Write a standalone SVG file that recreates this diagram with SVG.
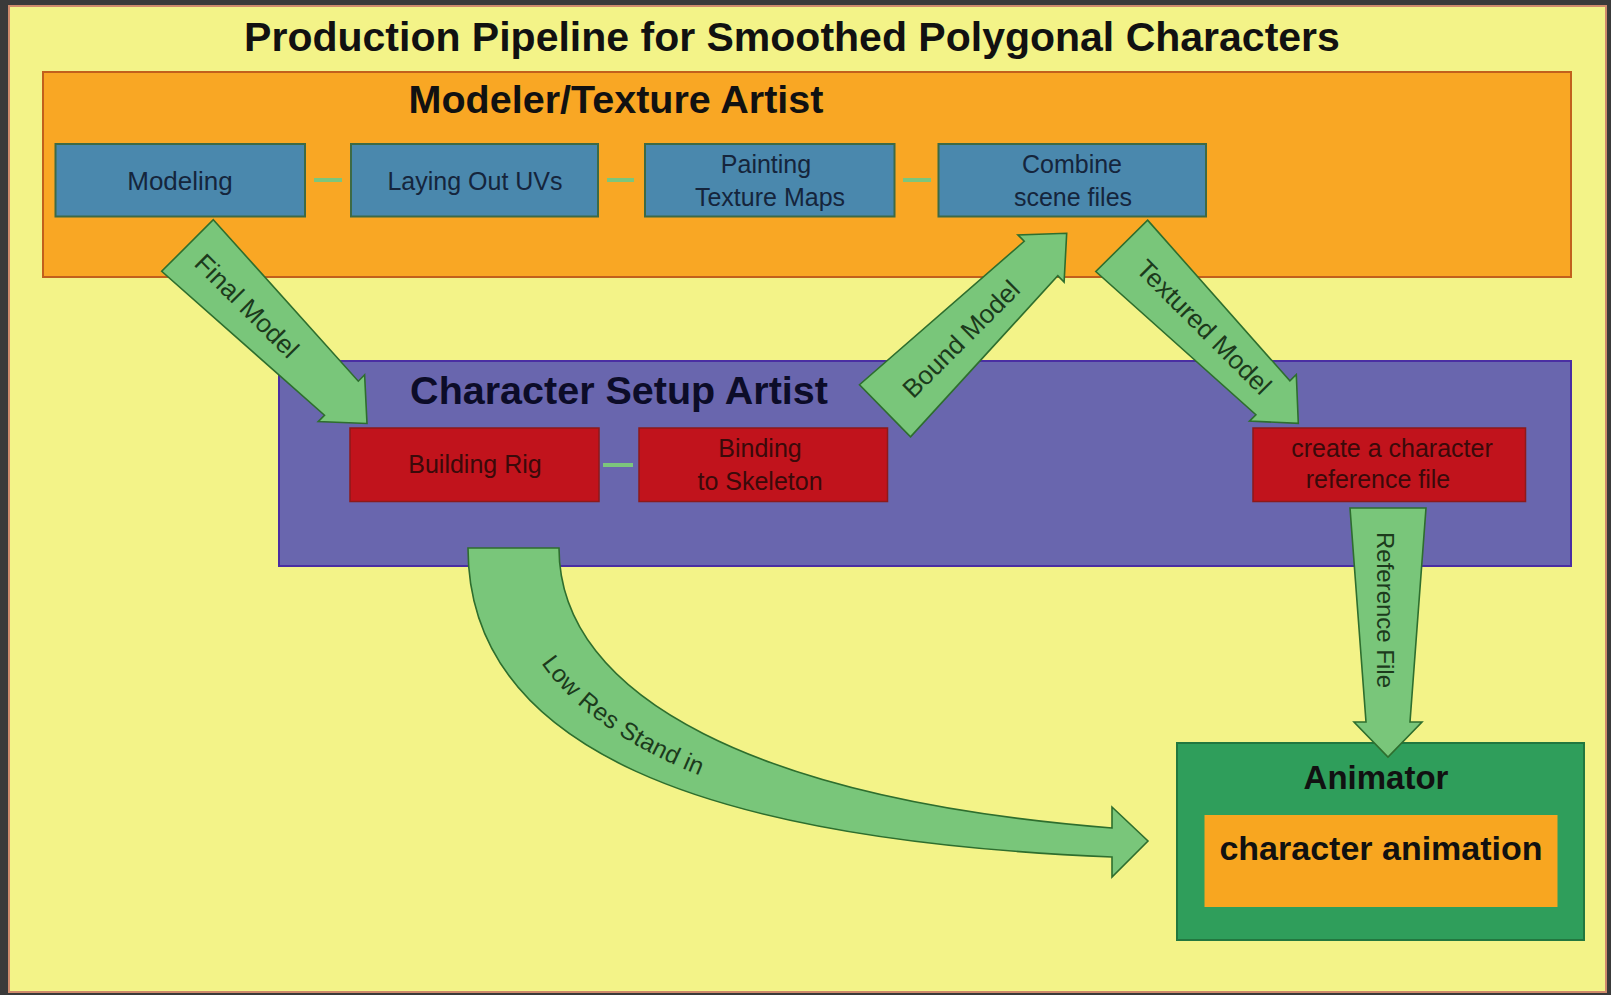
<svg xmlns="http://www.w3.org/2000/svg" width="1611" height="995" viewBox="0 0 1611 995">
<defs>
<style>
.bold{font-family:"Liberation Sans",Arial,sans-serif;font-weight:bold;fill:#111;text-anchor:middle}
.lbl{font-family:"Liberation Sans",Arial,sans-serif;font-size:25px;text-anchor:middle}
.blue{fill:#4a88ad;stroke:#3d6a45;stroke-width:2}
.red{fill:#c1131c;stroke:#8c1a1a;stroke-width:1.5}
.btxt{fill:#15253c}
.rtxt{fill:#3a0a0a}
.arrow{fill:#79c67a;stroke:#2e6e2e;stroke-width:1.6;stroke-linejoin:miter}
.atxt{font-family:"Liberation Sans",Arial,sans-serif;font-size:26px;fill:#1c3a1c;text-anchor:middle}
.dash{stroke:#7cc67c;stroke-width:4}
</style>
</defs>
<rect x="0" y="0" width="1611" height="995" fill="#3a3a3a"/>
<rect x="9" y="6" width="1597" height="986" fill="#f3f388" stroke="#cf8a6c" stroke-width="2"/>
<text class="bold" x="792" y="51" font-size="41">Production Pipeline for Smoothed Polygonal Characters</text>

<g id="modeler-texture-artist">
<rect x="43" y="72" width="1528" height="205" fill="#f9a724" stroke="#c2601c" stroke-width="2"/>
<text class="bold" x="616" y="113" font-size="39.5">Modeler/Texture Artist</text>
</g>

<g id="character-setup-artist">
<rect x="279" y="361" width="1292" height="205" fill="#6966ae" stroke="#4a2ea2" stroke-width="2"/>
<text class="bold" x="619" y="404" font-size="39.5" style="fill:#0c0c28">Character Setup Artist</text>
</g>

<g id="animator">
<rect x="1177" y="743" width="407" height="197" fill="#2f9e5b" stroke="#22773f" stroke-width="2"/>
<text class="bold" x="1376" y="789" font-size="33">Animator</text>
</g>

<g id="modeling">
<rect class="blue" x="55.5" y="144" width="249.5" height="72.5"/>
<text class="lbl btxt" x="180" y="190" style="font-size:26px">Modeling</text>
</g>
<g id="laying-out-uvs">
<rect class="blue" x="351" y="144" width="247" height="72.5"/>
<text class="lbl btxt" x="475" y="190">Laying Out UVs</text>
</g>
<g id="painting-texture-maps">
<rect class="blue" x="645" y="144" width="249.5" height="72.5"/>
<text class="lbl btxt" x="766" y="173">Painting</text>
<text class="lbl btxt" x="770" y="206">Texture Maps</text>
</g>
<g id="combine-scene-files">
<rect class="blue" x="938.5" y="144" width="267.5" height="72.5"/>
<text class="lbl btxt" x="1072" y="173">Combine</text>
<text class="lbl btxt" x="1073" y="206">scene files</text>
</g>

<g id="building-rig">
<rect class="red" x="350" y="428" width="249" height="73.5"/>
<text class="lbl rtxt" x="475" y="473">Building Rig</text>
</g>
<g id="binding-to-skeleton">
<rect class="red" x="639" y="428" width="248.5" height="73.5"/>
<text class="lbl rtxt" x="760" y="457">Binding</text>
<text class="lbl rtxt" x="760" y="490">to Skeleton</text>
</g>
<g id="character-reference-file">
<rect class="red" x="1253" y="428" width="272.5" height="73.5"/>
<text class="lbl rtxt" x="1392" y="457">create a character</text>
<text class="lbl rtxt" x="1378" y="488">reference file</text>
</g>

<g id="character-animation">
<rect x="1204.5" y="815" width="353" height="92" fill="#f8a620"/>
<text class="bold" x="1381" y="860" font-size="34">character animation</text>
</g>

<g id="connectors">
<line class="dash" x1="314" y1="180" x2="342" y2="180"/>
<line class="dash" x1="607" y1="180" x2="634" y2="180"/>
<line class="dash" x1="903" y1="180" x2="931" y2="180"/>
<line class="dash" x1="603" y1="465" x2="633" y2="465"/>

<g id="arrow-final-model">
<polygon class="arrow" points="213.3,219.7 358.3,381.2 364.6,374.8 367,423.5 318.2,421.6 324.5,415.2 161.7,271.3"/>
<text class="atxt" transform="translate(247,306) rotate(45)" y="9">Final Model</text>
</g>
<g id="arrow-bound-model">
<polygon class="arrow" points="910.5,436.9 1057.8,275.7 1064.1,282.1 1066.7,233.3 1017.9,234.9 1024.2,241.3 859.5,384.7"/>
<text class="atxt" transform="translate(961,339) rotate(-45)" y="9">Bound Model</text>
</g>
<g id="arrow-textured-model">
<polygon class="arrow" points="1147.6,220.1 1289.9,380.9 1296.3,374.5 1298.3,423.3 1249.5,421.1 1255.9,414.7 1095.8,271.5"/>
<text class="atxt" transform="translate(1204,327) rotate(45)" y="9">Textured Model</text>
</g>
<g id="arrow-reference-file">
<polygon class="arrow" points="1350,508 1426,508 1410,722 1422,722 1388,757 1354,722 1366,722"/>
<text class="atxt" transform="translate(1385,610) rotate(90)" y="8" style="font-size:24px">Reference File</text>
</g>
<g id="arrow-low-res">
<path id="lowres-shape" class="arrow" d="M468,548 L559,548 C559,698 760,800 1112,828 L1112,807 L1148,841 L1112,877 L1112,857 C700,840 468,748 468,548 Z"/>
<path id="lowres-mid" d="M513.5,548 C513.5,723 730,820 1112,842.5" fill="none"/>
<text class="atxt" style="text-anchor:start;font-size:24.5px" dy="9"><textPath href="#lowres-mid" startOffset="117">Low Res Stand in</textPath></text>
</g>
</g>
</svg>
